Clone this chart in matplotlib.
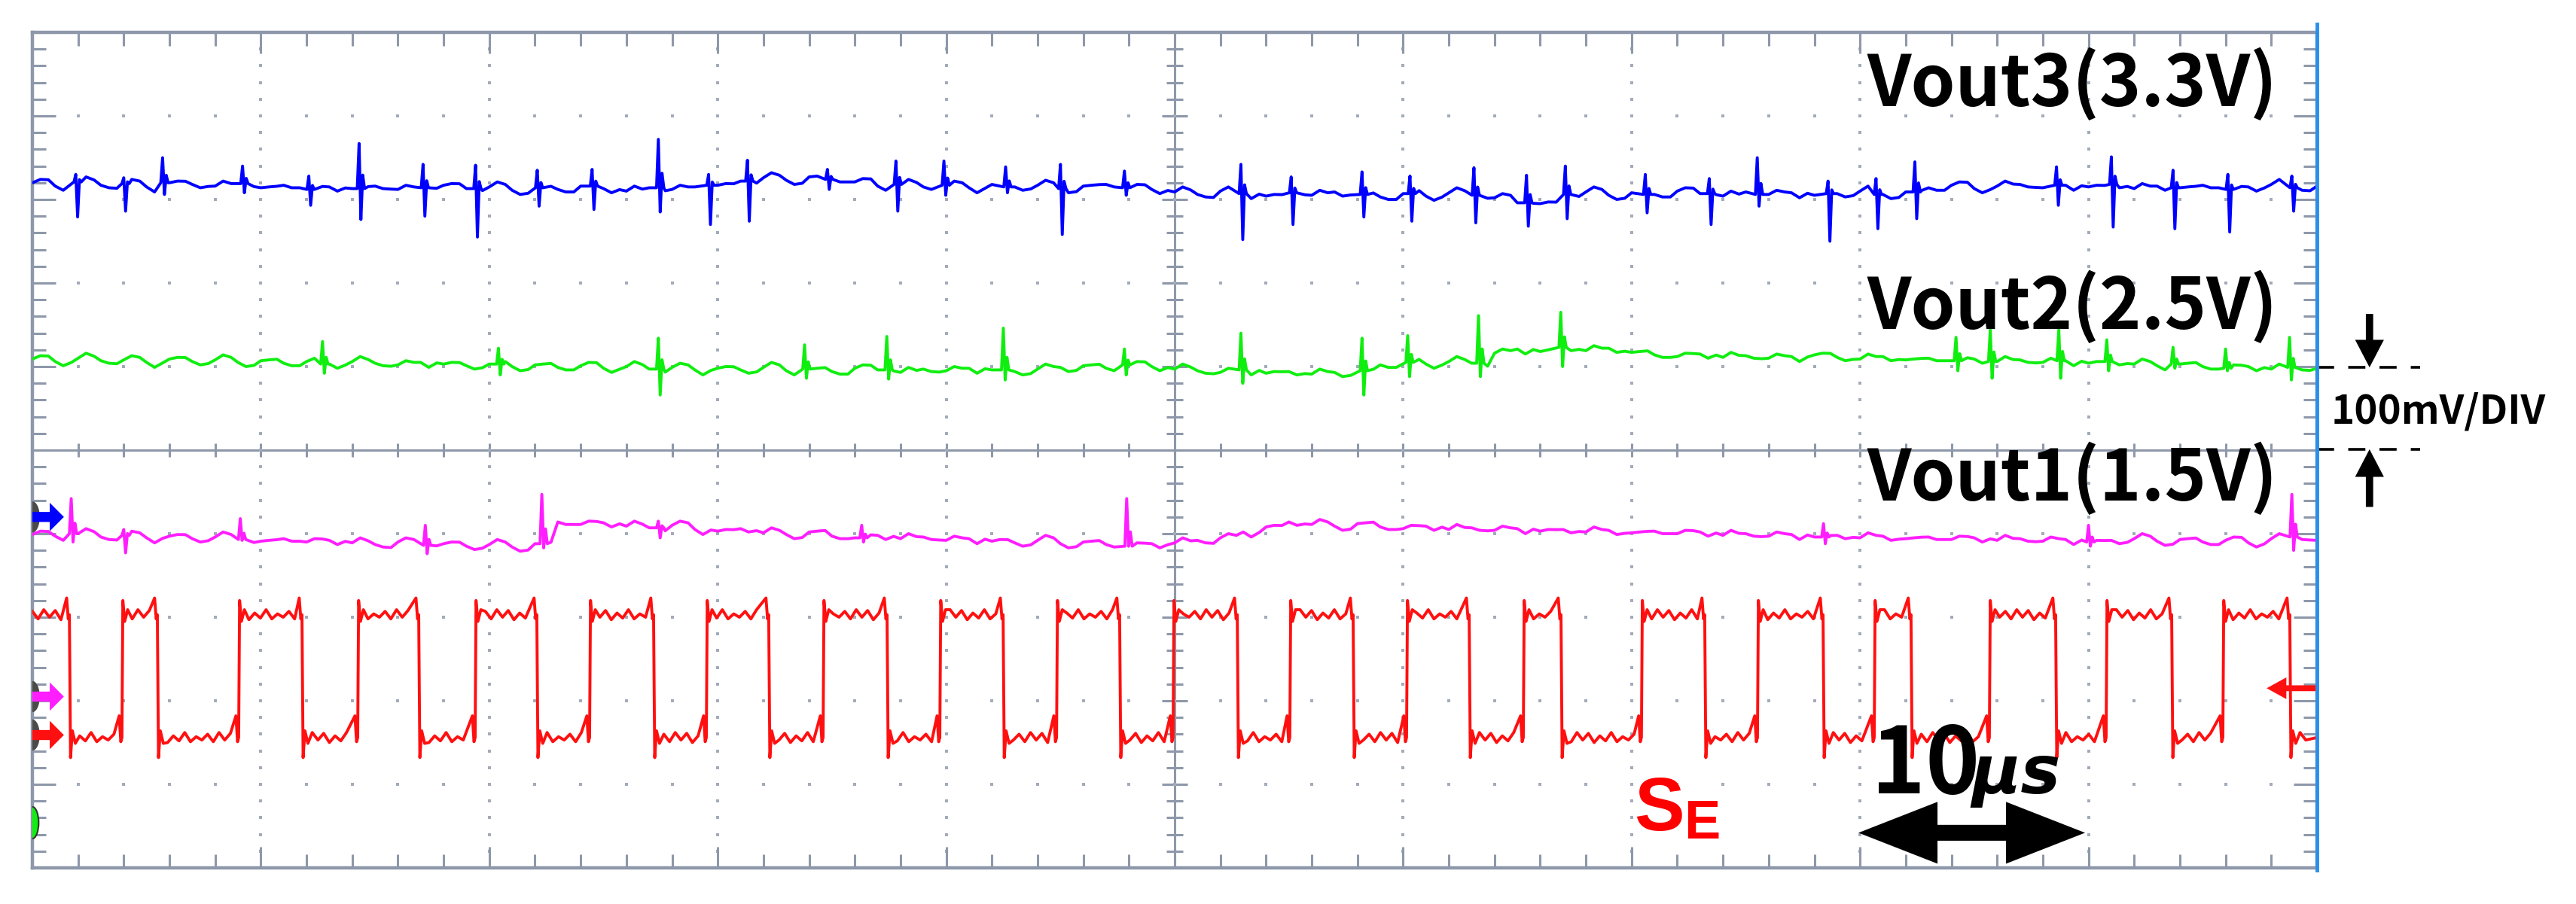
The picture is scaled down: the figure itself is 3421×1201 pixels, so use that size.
import matplotlib
matplotlib.use("Agg")
import matplotlib.pyplot as plt
from matplotlib.patches import Polygon, Ellipse
import numpy as np

# x: time in us (10 us/div, 10 div), y: screen divisions (0 = centre line)
t_grid = list(range(0, 101))

vout3_level = [3.20, 3.16, 3.21, 3.17, 3.19, 3.15, 3.20, 3.18, 3.16, 3.19,
               3.14, 3.17, 3.12, 3.15, 3.13, 3.16, 3.12, 3.14, 3.17, 3.13,
               3.15, 3.11, 3.14, 3.12, 3.16, 3.13, 3.10, 3.14, 3.12, 3.15,
               3.17, 3.22, 3.26, 3.23, 3.27, 3.24, 3.21, 3.16, 3.18, 3.15,
               3.17, 3.14, 3.18, 3.15, 3.17, 3.13, 3.16, 3.18, 3.14, 3.12,
               3.09, 3.06, 3.10, 3.07, 3.04, 3.08, 3.05, 3.09, 3.06, 3.03,
               3.07, 3.04, 3.08, 3.05, 3.02, 2.96, 2.95, 3.06, 3.09, 3.05,
               3.08, 3.06, 3.10, 3.07, 3.04, 3.09, 3.06, 3.08, 3.05, 3.07,
               3.10, 3.06, 3.09, 3.14, 3.17, 3.13, 3.16, 3.18, 3.14, 3.17,
               3.15, 3.18, 3.13, 3.16, 3.14, 3.17, 3.12, 3.15, 3.18, 3.14, 3.16]
# (time, peak up, peak down)
vout3_spikes = [(1.9, 3.30, 2.79), (4.0, 3.26, 2.86), (5.7, 3.50, 3.06), (9.2, 3.40, 3.08),
                (12.1, 3.28, 2.93), (14.3, 3.67, 2.76), (17.1, 3.42, 2.80), (19.4, 3.41, 2.55),
                (22.1, 3.35, 2.92), (24.5, 3.36, 2.88), (27.4, 3.72, 2.85), (29.6, 3.30, 2.70),
                (31.3, 3.47, 2.74), (34.8, 3.36, 3.12), (37.8, 3.46, 2.86), (39.9, 3.46, 3.05),
                (42.6, 3.39, 3.08), (45.0, 3.42, 2.58), (47.8, 3.34, 3.05), (52.9, 3.42, 2.52),
                (55.1, 3.27, 2.70), (58.2, 3.33, 2.79), (60.3, 3.28, 2.74), (63.1, 3.38, 2.72),
                (65.4, 3.29, 2.68), (67.1, 3.40, 2.77), (70.6, 3.30, 2.84), (73.4, 3.25, 2.70),
                (75.5, 3.50, 2.92), (78.6, 3.22, 2.50), (80.7, 3.25, 2.65), (82.4, 3.45, 2.77),
                (88.6, 3.39, 2.93), (91.0, 3.51, 2.67), (93.7, 3.35, 2.65), (96.1, 3.30, 2.61),
                (98.9, 3.28, 2.86)]

vout2_level = [1.09, 1.06, 1.10, 1.07, 1.08, 1.05, 1.09, 1.06, 1.08, 1.05,
               1.07, 1.04, 1.06, 1.03, 1.06, 1.04, 1.02, 1.05, 1.03, 1.01,
               1.03, 1.00, 1.02, 0.99, 1.01, 0.98, 1.00, 0.97, 0.99, 0.96,
               0.98, 0.96, 0.99, 0.95, 0.97, 0.94, 0.98, 0.96, 0.93, 0.97,
               0.95, 0.98, 0.96, 0.94, 0.97, 0.99, 1.01, 0.98, 1.02, 1.00,
               0.97, 0.95, 0.93, 0.96, 0.92, 0.94, 0.91, 0.93, 0.95, 1.02,
               1.05, 1.03, 1.06, 1.04, 1.16, 1.21, 1.18, 1.23, 1.19, 1.22,
               1.17, 1.14, 1.12, 1.15, 1.11, 1.13, 1.10, 1.12, 1.14, 1.11,
               1.09, 1.12, 1.08, 1.10, 1.07, 1.09, 1.06, 1.08, 1.05, 1.07,
               1.04, 1.06, 1.03, 1.01, 1.03, 1.00, 0.98, 1.00, 0.97, 0.99, 0.98]
vout2_spikes = [(12.7, 1.30, 0.92), (20.4, 1.22, 0.90), (27.4, 1.34, 0.66), (33.8, 1.26, 0.86),
                (37.4, 1.36, 0.85), (42.5, 1.46, 0.84), (47.8, 1.21, 0.90), (52.9, 1.40, 0.80),
                (58.2, 1.34, 0.66), (60.2, 1.37, 0.88), (63.3, 1.61, 0.88), (66.9, 1.65, 1.00),
                (84.2, 1.35, 0.95), (85.7, 1.44, 0.86), (88.7, 1.44, 0.86), (90.8, 1.32, 0.95),
                (93.7, 1.23, 0.98), (96.0, 1.21, 0.95), (98.8, 1.35, 0.84)]

vout1_level = [-1.01, -1.03, -1.00, -1.04, -1.02, -1.05, -1.03, -1.06, -1.04, -1.07,
               -1.09, -1.06, -1.10, -1.08, -1.11, -1.13, -1.10, -1.14, -1.12, -1.15,
               -1.13, -1.16, -1.12, -0.86, -0.89, -0.87, -0.91, -0.93, -0.90, -0.95,
               -0.97, -0.94, -0.99, -1.01, -0.98, -1.03, -1.05, -1.02, -1.06, -1.04,
               -1.08, -1.06, -1.09, -1.11, -1.08, -1.12, -1.10, -1.13, -1.15, -1.12,
               -1.11, -1.08, -1.05, -0.98, -0.92, -0.86, -0.89, -0.91, -0.88, -0.92,
               -0.94, -0.91, -0.95, -0.93, -0.96, -0.94, -0.97, -0.95, -0.98, -0.96,
               -0.99, -0.97, -1.00, -0.98, -1.02, -1.00, -1.03, -1.01, -1.04, -1.02,
               -1.05, -1.03, -1.06, -1.04, -1.07, -1.05, -1.08, -1.06, -1.09, -1.07,
               -1.10, -1.08, -1.06, -1.09, -1.07, -1.10, -1.08, -1.11, -1.06, -1.04, -1.08]
vout1_spikes = [(1.7, -0.58, -1.10), (4.0, -0.95, -1.23), (9.1, -0.82, -1.08), (17.2, -0.90, -1.24),
                (22.3, -0.53, -1.17), (27.4, -0.85, -1.05), (36.3, -0.90, -1.10), (47.9, -0.58, -1.15),
                (78.4, -0.88, -1.12), (90.0, -0.90, -1.15), (98.9, -0.53, -1.20)]

# switching node S_E: edge times in us, levels in div
se_rise = [3.92, 9.03, 14.24, 19.38, 24.39, 29.50, 34.61, 39.72, 44.83, 49.93,
           55.04, 60.15, 65.26, 70.43, 75.51, 80.62, 85.66, 90.77, 95.88]
se_fall = [1.62, 5.47, 11.80, 16.91, 22.08, 27.19, 32.23, 37.41, 42.49, 47.59,
           52.74, 57.81, 62.89, 66.91, 73.20, 78.38, 82.23, 88.56, 93.64, 98.81]
se_high = -1.97
se_low = -3.44
ripple = [0.04, -0.05, 0.06, -0.03, 0.05, -0.06, 0.02, -0.04, 0.06, -0.05, 0.01, -0.03]

labels = ["Vout3(3.3V)", "Vout2(2.5V)", "Vout1(1.5V)"]
label_y = [4.12, 1.45, -0.60]

GRID = '#8E98AA'
DOT = '#A3ABBA'
TRACE_LW = 2.8


def trace(level, spikes):
    pts = []
    for i, (t, v) in enumerate(zip(t_grid, level)):
        pts.append((t, v))
        if t < 100:
            pts.append((t + 0.35, v + ripple[i % len(ripple)]))
            pts.append((t + 0.7, v - 0.6 * ripple[(i + 5) % len(ripple)]))
    pts = [p for p in pts if all(abs(p[0] - s[0]) > 0.25 for s in spikes)]
    for t, hi, lo in spikes:
        b = level[int(round(t))]
        pts += [(t - 0.08, b), (t, hi), (t + 0.08, lo), (t + 0.16, b + 0.3 * (hi - b)), (t + 0.24, b)]
    pts.sort()
    return [p[0] for p in pts], [p[1] for p in pts]


def square_wave(rises, falls, hi, lo):
    edges = sorted([(t, 1) for t in rises] + [(t, 0) for t in falls])
    xs, ys = [], []
    level, start, k = hi, 0.0, 0
    for t, up in edges + [(100.0, None)]:
        s = start
        while s < t - 0.3:
            xs.append(s)
            ys.append(level + ripple[k % len(ripple)])
            k += 1
            s += 0.25
        if up is None:
            xs.append(100.0)
            ys.append(level)
        elif up:
            xs += [t - 0.12, t - 0.05, t, t + 0.04, t + 0.12, t + 0.25]
            ys += [lo + 0.26, lo - 0.05, lo, hi + 0.17, hi - 0.08, hi + 0.06]
            level = hi
        else:
            xs += [t - 0.12, t - 0.05, t, t + 0.05, t + 0.13, t + 0.26]
            ys += [hi + 0.2, hi - 0.05, hi, lo - 0.24, lo + 0.08, lo - 0.07]
            level = lo
        start = t + 0.45
    return xs, ys


def h_arrow(ax, x_tail, x_tip, y, head_len, head_half, shaft_half, color, **kw):
    d = 1 if x_tip > x_tail else -1
    xb = x_tip - d * head_len
    verts = [(x_tail, y - shaft_half), (xb, y - shaft_half), (xb, y - head_half), (x_tip, y),
             (xb, y + head_half), (xb, y + shaft_half), (x_tail, y + shaft_half)]
    ax.add_patch(Polygon(verts, closed=True, facecolor=color, edgecolor='none', **kw))


def v_arrow(ax, x, y_tail, y_tip, head_len, head_half, shaft_half, color, **kw):
    d = 1 if y_tip > y_tail else -1
    yb = y_tip - d * head_len
    verts = [(x - shaft_half, y_tail), (x - shaft_half, yb), (x - head_half, yb), (x, y_tip),
             (x + head_half, yb), (x + shaft_half, yb), (x + shaft_half, y_tail)]
    ax.add_patch(Polygon(verts, closed=True, facecolor=color, edgecolor='none', **kw))


fig = plt.figure(figsize=(34.21, 12.01), dpi=100)
ax = fig.add_axes([43 / 3421, 1 - 1153 / 1201, 3034 / 3421, 1110 / 1201])
ax.set_xlim(0, 100)
ax.set_ylim(-5, 5)

for side in ['left', 'top', 'bottom', 'right']:
    ax.spines[side].set_color(GRID)
    ax.spines[side].set_linewidth(3.2)
ax.set_xticks(np.arange(0, 101, 10))
ax.set_xticks(np.arange(0, 101, 2), minor=True)
ax.set_yticks(np.arange(-5, 5.01, 1))
ax.set_yticks(np.arange(-5, 5.01, 0.2), minor=True)
ax.tick_params(which='both', direction='in', top=True, right=True, color=GRID,
               labelleft=False, labelbottom=False, width=2.2)
ax.tick_params(axis='x', which='major', length=20)
ax.tick_params(axis='x', which='minor', length=13)
ax.tick_params(axis='y', which='major', length=22)
ax.tick_params(axis='y', which='minor', length=13)

# centre cross with ticks
ax.axhline(0, color=GRID, lw=2.2, zorder=1)
ax.axvline(50, color=GRID, lw=2.2, zorder=1)
cx = np.arange(0, 101, 2)
ax.plot(cx, np.zeros_like(cx), ls='none', marker='|', ms=13, mew=2.2, color=GRID, zorder=1)
cy = np.arange(-5, 5.01, 0.2)
ax.plot(np.full_like(cy, 50), cy, ls='none', marker='_', ms=16, mew=2.2, color=GRID, zorder=1)
cy_major = np.arange(-4, 4.01, 1)
ax.plot(np.full_like(cy_major, 50), cy_major, ls='none', marker='_', ms=24, mew=2.2,
        color=GRID, zorder=1)

# dotted graticule
for gx in [10, 20, 30, 40, 60, 70, 80, 90]:
    ax.scatter(np.full_like(cy, gx), cy, marker='s', s=7, color=DOT, lw=0, zorder=1)
for gy in [-4, -3, -2, -1, 1, 2, 3, 4]:
    ax.scatter(cx, np.full_like(cx, gy, dtype=float), marker='s', s=7, color=DOT, lw=0, zorder=1)

# traces
x, y = trace(vout3_level, vout3_spikes)
ax.plot(x, y, color='#0000FF', lw=TRACE_LW, zorder=3)
x, y = trace(vout2_level, vout2_spikes)
ax.plot(x, y, color='#10EE10', lw=TRACE_LW, zorder=3)
x, y = trace(vout1_level, vout1_spikes)
ax.plot(x, y, color='#FF1EFF', lw=TRACE_LW, zorder=3)
x, y = square_wave(se_rise, se_fall, se_high, se_low)
ax.plot(x, y, color='#FF1010', lw=TRACE_LW, zorder=3)

# channel markers on the left edge
for my, col in [(-0.80, '#0000FF'), (-2.95, '#FF1EFF'), (-3.41, '#FF1010')]:
    ax.add_patch(Ellipse((0, my), 0.6, 0.36, color='#4A4A4A', zorder=4))
    h_arrow(ax, 0.0, 1.38, my, 0.62, 0.17, 0.06, col, zorder=5)
ax.add_patch(Ellipse((0, -4.46), 0.55, 0.38, facecolor='#10EE10', edgecolor='#333333',
                     lw=1.5, zorder=4))
# trigger marker on the right edge
h_arrow(ax, 100.0, 97.8, -2.85, 0.86, 0.13, 0.035, '#FF1010', zorder=5)

# right edge of the screen in blue
ax.plot([1, 1], [-0.003, 1.01], transform=ax.transAxes, color='#2B8FEA', lw=3.5,
        clip_on=False, zorder=6)

# labels
for txt, ly in zip(labels, label_y):
    ax.text(80.3, ly, txt, fontsize=68, fontweight='bold', family=['Noto Sans CJK KR', 'DejaVu Sans'],
            ha='left', va='baseline', zorder=7)

# 100mV/DIV scale marker
for dy in [0.99, 0.01]:
    ax.plot([100, 104.5], [dy, dy], color='black', lw=2.6, dashes=(6.3, 5.2), clip_on=False)
v_arrow(ax, 102.3, 1.63, 0.99, 0.33, 0.63, 0.16, 'black', clip_on=False)
v_arrow(ax, 102.3, -0.68, 0.01, 0.33, 0.63, 0.16, 'black', clip_on=False)
ax.text(100.6, 0.32, "100mV/DIV", fontsize=38, fontweight='bold',
        family=['Noto Sans CJK KR', 'DejaVu Sans'], ha='left', va='baseline', clip_on=False)

# 10 us time marker
ax.text(80.5, -4.11, "10", fontsize=88, fontweight='bold', family=['Noto Sans CJK KR', 'DejaVu Sans'],
        ha='left', va='baseline', zorder=7)
ax.text(84.9, -4.11, "\u03bcs", fontsize=64, fontweight='bold', style='italic',
        family=['DejaVu Sans'], ha='left', va='baseline', zorder=7)
hl, hh, sh = 3.46, 0.37, 0.095
xl, xr, ya = 79.93, 89.85, -4.58
ax.add_patch(Polygon([(xl, ya), (xl + hl, ya + hh), (xl + hl, ya + sh), (xr - hl, ya + sh),
                      (xr - hl, ya + hh), (xr, ya), (xr - hl, ya - hh), (xr - hl, ya - sh),
                      (xl + hl, ya - sh), (xl + hl, ya - hh)], closed=True,
                     facecolor='black', edgecolor='none', zorder=7))

# S_E label
ax.text(70.1, -4.55, "S", fontsize=72, fontweight='bold', family=['Liberation Sans', 'DejaVu Sans'],
        color='#FF0000', ha='left', va='baseline', zorder=7)
ax.text(72.3, -4.65, "E", fontsize=52, fontweight='bold', family=['Liberation Sans', 'DejaVu Sans'],
        color='#FF0000', ha='left', va='baseline', zorder=7)

fig.savefig("out.png", dpi=100, facecolor='white')
